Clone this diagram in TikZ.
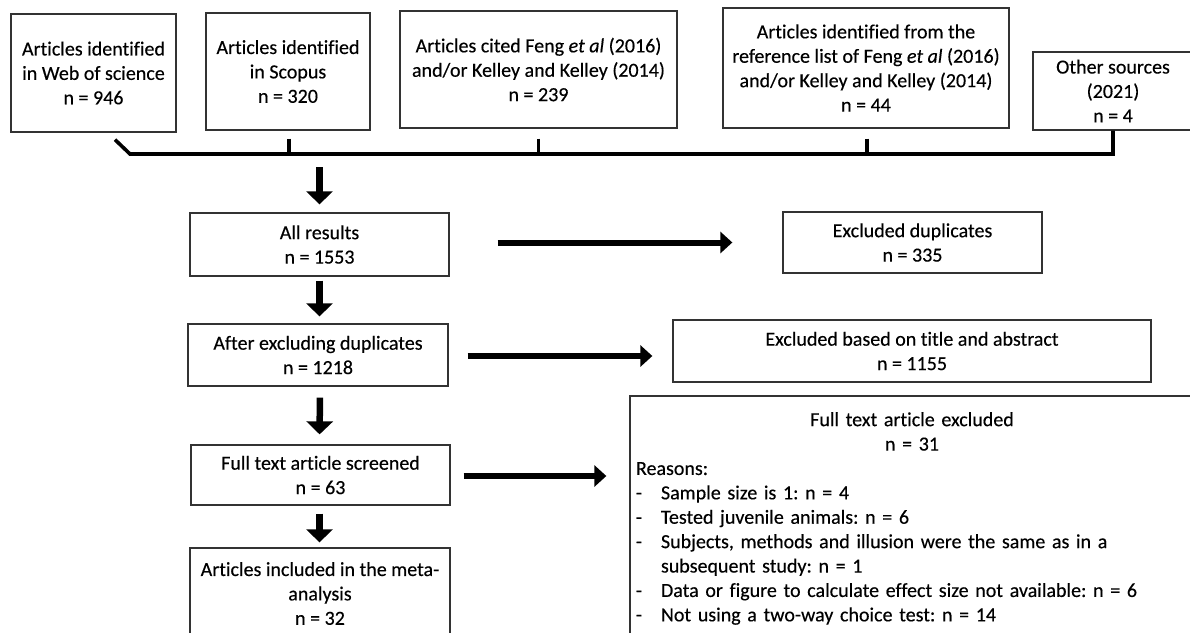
\documentclass[tikz,border=0pt]{standalone}
\usepackage{fontspec}
\setmainfont{Carlito}[Ligatures=NoCommon, FakeBold=0.3]
\usetikzlibrary{arrows.meta,calc}
\frenchspacing
\begin{document}
\begin{tikzpicture}[x=1pt,y=-1pt,
  box/.style={draw=black!80, line width=1.3pt, align=center, inner sep=0pt,
    font=\fontsize{20}{24.4}\selectfont\frenchspacing, text=black},
  bar/.style={line width=3.6pt, black},
  bigarr/.style={line width=6.5pt, black, -{Triangle[width=26pt,length=13pt]}},
  harr/.style={line width=6pt, black, -{Triangle[width=21pt,length=12pt]}}]
\useasboundingbox (0,0) rectangle (1190,632);
\fill[white] (0,0) rectangle (1190,632);
% top row
\node[box, minimum width=165pt, minimum height=118pt] (b1) at (93.5,73)
  {Articles identified\\in Web of science\\n = 946};
\node[box, minimum width=164pt, minimum height=117pt] (b2) at (288,71.5)
  {Articles identified\\in Scopus\\n = 320};
\node[box, minimum width=277pt, minimum height=117pt] (b3) at (538.5,69.5)
  {Articles cited Feng \textit{et al} (2016)\\and/or Kelley and Kelley (2014)\\n = 239};
\node[box, minimum width=286pt, minimum height=120pt] (b4) at (866,68)
  {Articles identified from the\\reference list of Feng \textit{et al} (2016)\\and/or Kelley and Kelley (2014)\\n = 44};
\node[box, minimum width=160pt, minimum height=78pt] (b5) at (1113,91)
  {Other sources\\(2021)\\n = 4};
% main column
\node[box, minimum width=259pt, minimum height=63pt] (allres) at (319.5,244.5)
  {All results\\n = 1553};
\node[box, minimum width=260pt, minimum height=62pt] (afterdup) at (318,355)
  {After excluding duplicates\\n = 1218};
\node[box, minimum width=259pt, minimum height=60pt] (ftscreen) at (320.5,475)
  {Full text article screened\\n = 63};
\node[box, minimum width=260pt, minimum height=91pt] (incl) at (320,593.5)
  {Articles included in the meta-\\analysis\\n = 32};
% right column
\node[box, minimum width=259pt, minimum height=61pt] (exdup) at (912.5,242.5)
  {Excluded duplicates\\n = 335};
\node[box, minimum width=478pt, minimum height=62pt] (extitle) at (912,351)
  {Excluded based on title and abstract\\n = 1155};
\node[box, minimum width=564pt, minimum height=245pt, text width=552pt, align=left] (ftex) at (912,518.5)
  {\makebox[552pt]{Full text article excluded}\\
   \makebox[552pt]{n = 31}\\
   Reasons:\\
   \makebox[25pt][l]{-}Sample size is 1: n = 4\\
   \makebox[25pt][l]{-}Tested juvenile animals: n = 6\\
   \makebox[25pt][l]{-}Subjects, methods and illusion were the same as in a\\
   \makebox[25pt][l]{}subsequent study: n = 1\\
   \makebox[25pt][l]{-}Data or figure to calculate effect size not available: n = 6\\
   \makebox[25pt][l]{-}Not using a two-way choice test: n = 14};
% bracket joining the sources
\coordinate (barL) at (130,154);
\draw[bar, line join=miter] ($(b1.south)+(21.5,7)$) -- (barL) -- (b5.south |- barL) -- (b5.south);
\draw[bar] ($(b2.south)+(1,8)$) -- ($(b2.south |- barL)+(1,0)$);
\draw[bar] ($(b3.south)+(0,10)$) -- (b3.south |- barL);
\draw[bar] ($(b4.south)+(1,10)$) -- ($(b4.south |- barL)+(1,0)$);
% vertical arrows
\draw[bigarr, shorten <=13pt, shorten >=8pt] (allres.north |- barL) -- (allres.north);
\draw[bigarr, shorten <=4pt, shorten >=7pt] (allres.south) -- (afterdup.north -| allres.south);
\draw[bigarr, shorten <=11pt, shorten >=10pt] ($(afterdup.south)+(2,0)$) -- (ftscreen.north -| allres.south);
\draw[bigarr, shorten <=8pt, shorten >=5pt] (ftscreen.south -| allres.south) -- (incl.north -| allres.south);
% horizontal arrows
\draw[harr, shorten <=48pt, shorten >=50pt] ($(allres.east)+(0,-2)$) -- ($(allres.east -| exdup.west)+(0,-2)$);
\draw[harr, shorten <=19pt, shorten >=20pt] ($(afterdup.east)+(0,1)$) -- ($(afterdup.east -| extitle.west)+(0,1)$);
\draw[harr, shorten <=13pt, shorten >=23pt] ($(ftscreen.east)+(0,1)$) -- ($(ftscreen.east -| ftex.west)+(0,1)$);
\end{tikzpicture}
\end{document}
